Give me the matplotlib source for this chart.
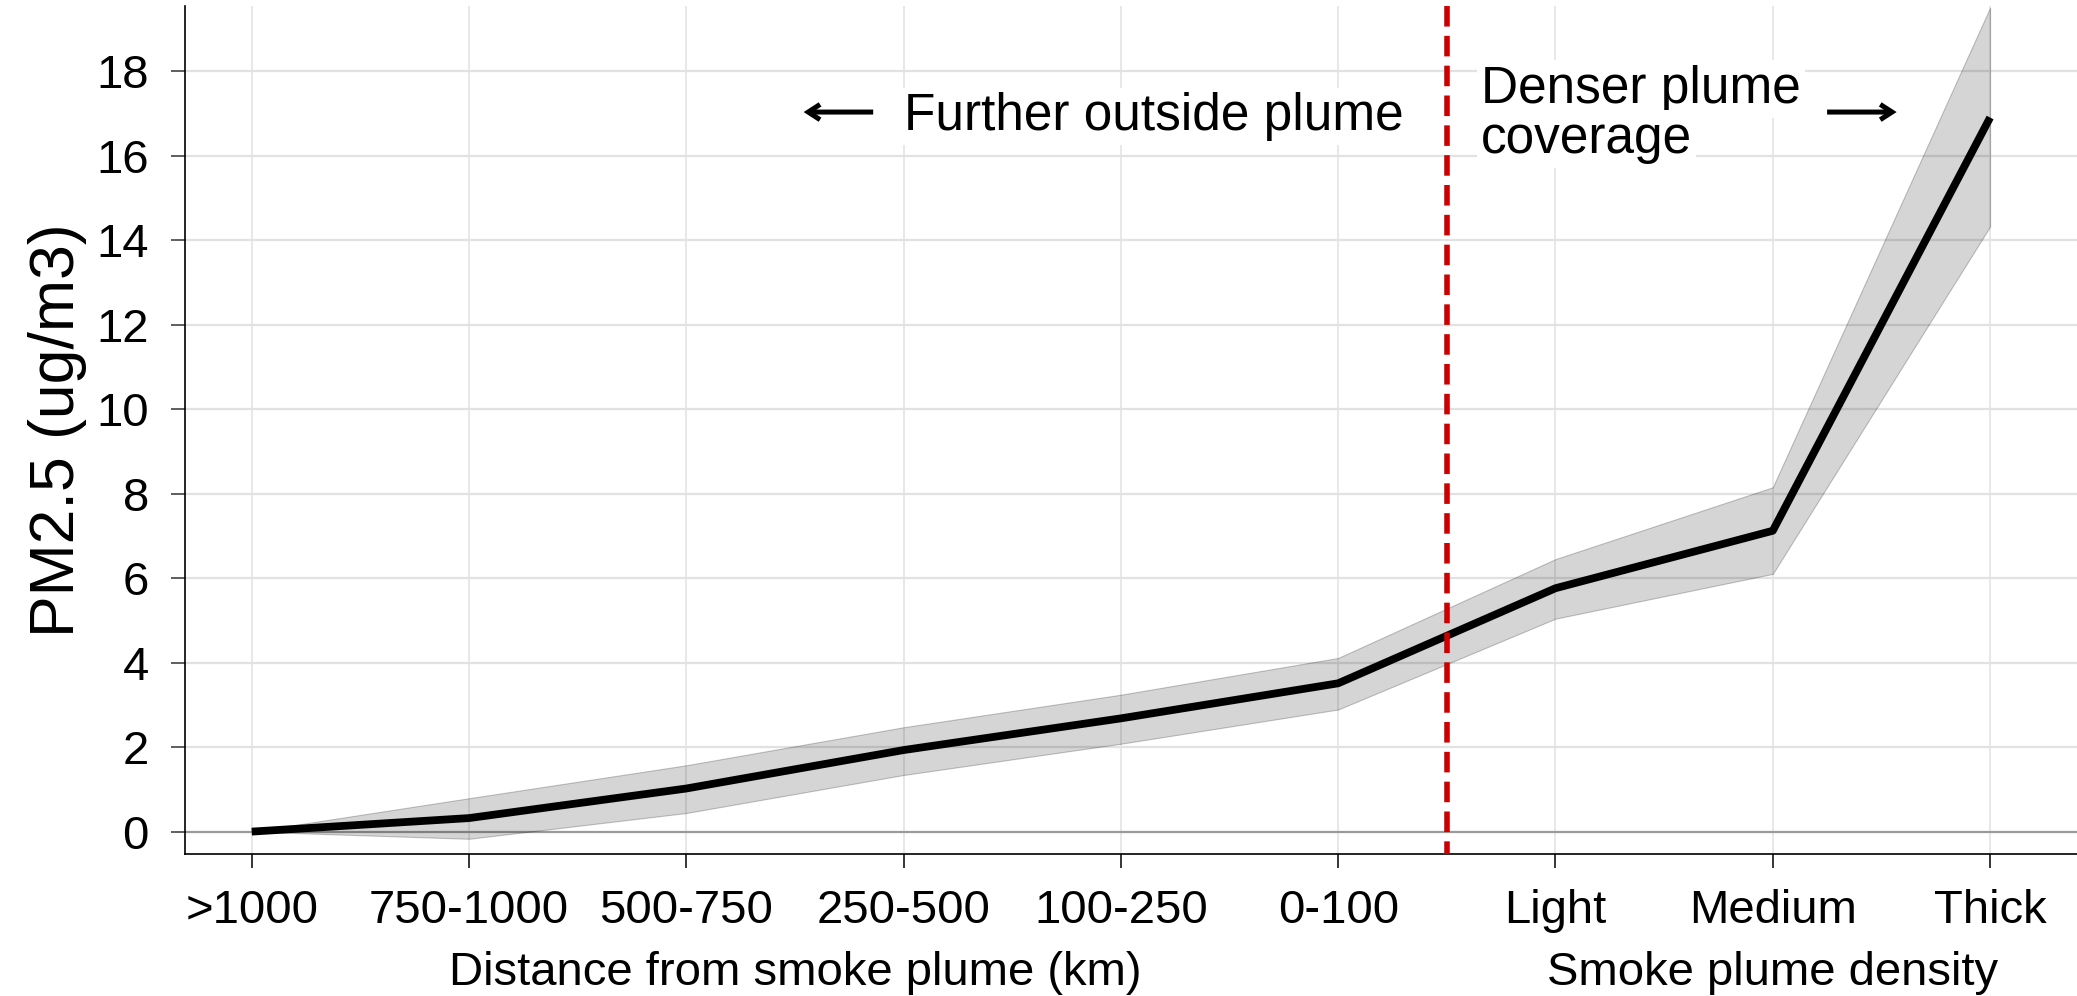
import matplotlib
matplotlib.use("Agg")
import matplotlib.pyplot as plt
import numpy as np

plt.rcParams['font.family'] = ['Liberation Sans', 'DejaVu Sans']

# ---- data ----
categories = [">1000", "750-1000", "500-750", "250-500", "100-250", "0-100",
              "Light", "Medium", "Thick"]
pm25_mean = [0.0, 0.32, 1.02, 1.93, 2.68, 3.51, 5.76, 7.12, 16.90]
pm25_upper = [0.0, 0.79, 1.57, 2.47, 3.24, 4.11, 6.45, 8.15, 19.50]
pm25_lower = [0.0, -0.17, 0.44, 1.34, 2.08, 2.89, 5.04, 6.10, 14.32]
y_ticks = [0, 2, 4, 6, 8, 10, 12, 14, 16, 18]
y_label = "PM2.5 (ug/m3)"
x_label_left = "Distance from smoke plume (km)"
x_label_right = "Smoke plume density"
note_left = "Further outside plume"
note_right_lines = ["Denser plume", "coverage"]

x = np.arange(len(categories))

fig = plt.figure(figsize=(20.77, 9.96), dpi=100)
ax = fig.add_axes([185/2077, 1-854/996, 1-185/2077, (854-6)/996])

ax.set_xlim(-0.307, 8.40)
ax.set_ylim(-0.53, 19.54)

# grid
for xi in x:
    ax.axvline(xi, color="#e2e2e2", lw=1.1, zorder=0)
for yt in y_ticks:
    if yt != 0:
        ax.axhline(yt, color="#e2e2e2", lw=1.6, zorder=0)
ax.axhline(0, color="#9a9a9a", lw=1.6, zorder=1)

# band + line
ax.fill_between(x, pm25_lower, pm25_upper, facecolor=(0, 0, 0, 0.165),
                edgecolor=(0, 0, 0, 0.22), lw=0.8, zorder=2)
ax.plot(x, pm25_mean, color="black", lw=5.6, solid_joinstyle="round",
        solid_capstyle="butt", zorder=3)

# dashed divider (drawn from top down so a dash starts at the top)
ylo, yhi = ax.get_ylim()
ax.plot([5.5, 5.5], [yhi, ylo], color="#cc0000", lw=4.0, ls=(0, (3.7, 1.67)),
        dash_capstyle="butt", zorder=4, clip_on=False)

# spines / ticks
for s in ["top", "right"]:
    ax.spines[s].set_visible(False)
for s in ["left", "bottom"]:
    ax.spines[s].set_color("black")
    ax.spines[s].set_linewidth(1.2)

ax.set_xticks(x)
ax.set_xticklabels(categories, fontsize=34)
ax.set_yticks(y_ticks)
ax.set_yticklabels([str(v) for v in y_ticks], fontsize=34)
ax.tick_params(axis="x", length=10, width=1.1, pad=15, color="black")
ax.tick_params(axis="y", length=10, width=1.1, pad=16, color="#333333")

ax.set_ylabel(y_label, fontsize=45, labelpad=7)

# x axis labels
trans = matplotlib.transforms.blended_transform_factory(ax.transData, fig.transFigure)
ax.text(2.5, 1-985/996, x_label_left, transform=trans, ha="center", va="baseline",
        fontsize=34)
ax.text(7.0, 1-985/996, x_label_right, transform=trans, ha="center", va="baseline",
        fontsize=34)

# annotations
box = dict(boxstyle="square,pad=0.08", facecolor="white", edgecolor="none")
ax.text(3.0, 16.61, note_left, fontsize=37, ha="left", va="baseline", zorder=5, bbox=box)
ytrans = lambda py: (831.7 - py) / 42.25
ax.text(5.658, ytrans(102.7), note_right_lines[0], fontsize=37, ha="left",
        va="baseline", zorder=5, bbox=box)
ax.text(5.658, ytrans(152.7), note_right_lines[1], fontsize=37, ha="left",
        va="baseline", zorder=5, bbox=box)

arrow_kw = dict(arrowstyle="->,head_length=0.85,head_width=0.55", color="black",
                lw=3.6, shrinkA=0, shrinkB=0, joinstyle="miter", capstyle="butt")
ax.annotate("", xy=(2.54, 17.03), xytext=(2.86, 17.03), arrowprops=arrow_kw, zorder=5)
ax.annotate("", xy=(7.57, 17.03), xytext=(7.25, 17.03), arrowprops=arrow_kw, zorder=5)

fig.savefig("out.png", dpi=100, facecolor="white")
